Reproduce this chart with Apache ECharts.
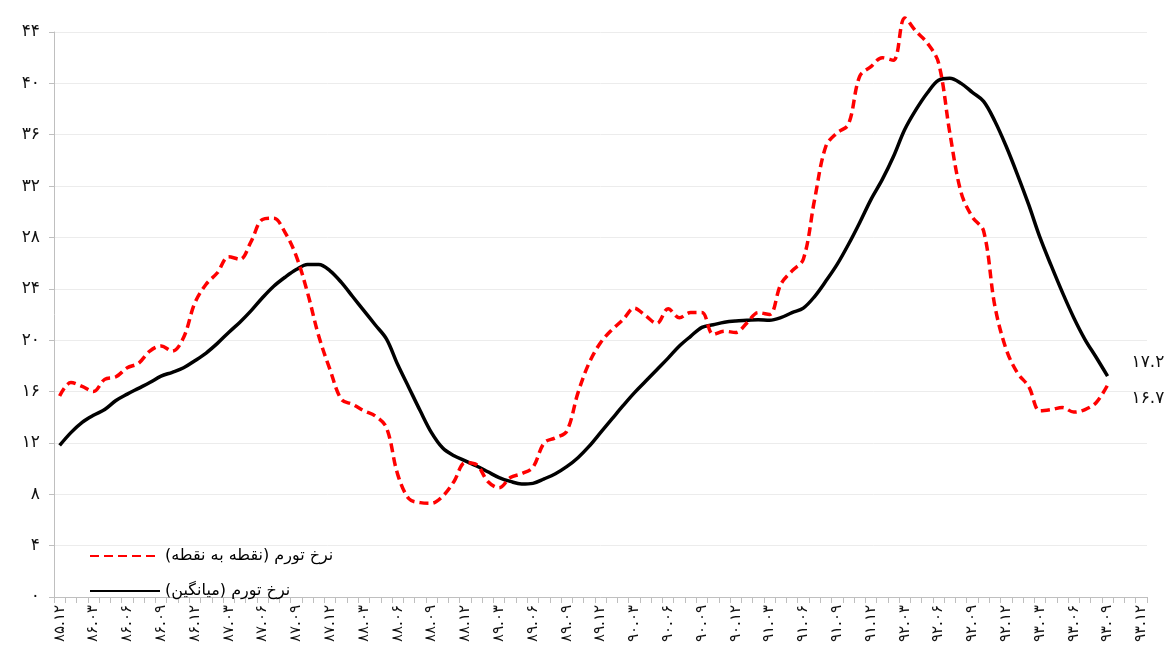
<!DOCTYPE html>
<html>
<head>
<meta charset="utf-8">
<script src="https://cdn.jsdelivr.net/npm/echarts@6/dist/echarts.min.js"></script>
<style>html,body{margin:0;padding:0;background:#fff}#c{width:1173px;height:664px}</style>
</head>
<body>
<div id="c"></div>
<script>
const months = [
"85.12",
"86.01","86.02","86.03","86.04","86.05","86.06","86.07","86.08","86.09","86.10","86.11","86.12",
"87.01","87.02","87.03","87.04","87.05","87.06","87.07","87.08","87.09","87.10","87.11","87.12",
"88.01","88.02","88.03","88.04","88.05","88.06","88.07","88.08","88.09","88.10","88.11","88.12",
"89.01","89.02","89.03","89.04","89.05","89.06","89.07","89.08","89.09","89.10","89.11","89.12",
"90.01","90.02","90.03","90.04","90.05","90.06","90.07","90.08","90.09","90.10","90.11","90.12",
"91.01","91.02","91.03","91.04","91.05","91.06","91.07","91.08","91.09","91.10","91.11","91.12",
"92.01","92.02","92.03","92.04","92.05","92.06","92.07","92.08","92.09","92.10","92.11","92.12",
"93.01","93.02","93.03","93.04","93.05","93.06","93.07","93.08","93.09","93.10","93.11","93.12"
];
const pointToPoint = [
15.65,16.7,16.4,16.0,16.95,17.15,17.85,18.2,19.15,19.55,19.15,20.2,22.9,
24.35,25.25,26.5,26.3,27.7,29.4,29.5,28.4,26.55,23.7,20.3,17.7,
15.4,15.0,14.5,14.1,13.2,9.55,7.65,7.35,7.3,7.85,9.0,10.45,
10.3,9.0,8.5,9.3,9.6,10.1,12.0,12.4,12.9,15.9,18.25,19.8,
20.8,21.6,22.5,21.9,21.3,22.45,21.75,22.15,22.15,20.45,20.7,20.6,
21.35,22.15,22.0,24.35,25.4,26.3,30.95,35.1,36.15,36.8,40.55,41.3,
42.0,41.8,45.1,44.05,43.15,41.6,36.15,31.5,29.6,28.5,22.65,19.3,
17.45,16.4,14.5,14.6,14.75,14.4,14.6,15.15,16.5,null,null,null
];
const average = [
11.8,12.8,13.6,14.15,14.6,15.3,15.8,16.25,16.7,17.2,17.5,17.85,18.4,
19.0,19.75,20.6,21.4,22.3,23.3,24.2,24.9,25.5,25.9,25.9,25.4,
24.5,23.4,22.3,21.2,20.1,18.1,16.3,14.5,12.8,11.6,11.0,10.6,
10.2,9.75,9.3,9.0,8.8,8.85,9.2,9.6,10.15,10.85,11.75,12.8,
13.85,14.9,15.9,16.8,17.7,18.6,19.55,20.3,21.0,21.2,21.4,21.5,
21.55,21.6,21.55,21.75,22.15,22.5,23.4,24.6,25.9,27.45,29.15,30.95,
32.5,34.3,36.4,37.95,39.25,40.25,40.4,40.0,39.3,38.6,37.05,35.1,
32.9,30.55,28.0,25.8,23.7,21.75,20.05,18.65,17.2,null,null,null
];
const seriesNames = ["نرخ تورم (نقطه به نقطه)", "نرخ تورم (میانگین)"];
const endLabels = ["۱۶.۷", "۱۷.۲"];

const fa = s => String(s).replace(/[0-9]/g, d => "۰۱۲۳۴۵۶۷۸۹"[d]);
const FONT = "'DejaVu Sans', sans-serif";

function endMark(arr, text, offset) {
  let last = -1;
  arr.forEach((v, i) => { if (v != null) last = i; });
  return {
    silent: true, symbol: 'circle', symbolSize: 0, animation: false,
    label: { show: true, position: 'right', distance: 0, offset: offset, formatter: () => text,
      fontSize: 17, color: '#111', fontFamily: FONT },
    data: [{ coord: [months[last], arr[last]] }]
  };
}

const chart = echarts.init(document.getElementById('c'), null, { renderer: 'canvas' });
chart.setOption({
  animation: false,
  backgroundColor: '#fff',
  grid: { left: 54, right: 26, top: 32, bottom: 67, containLabel: false },
  legend: {
    orient: 'vertical', left: 84, top: 543, itemWidth: 70, itemHeight: 12, itemGap: 19,
    data: seriesNames,
    itemStyle: { opacity: 0 },
    textStyle: { fontSize: 16, color: '#000', fontFamily: FONT }
  },
  xAxis: {
    type: 'category', data: months, boundaryGap: true,
    axisLine: { lineStyle: { color: '#bfbfbf', width: 1 } },
    axisTick: { show: true, interval: 0, length: 6, lineStyle: { color: '#bfbfbf' } },
    axisLabel: { interval: 2, rotate: 90, margin: 8, fontSize: 15, color: '#111',
      fontFamily: FONT, formatter: v => fa(v) },
    splitLine: { show: false }
  },
  yAxis: {
    type: 'value', min: 0, max: 44, interval: 4,
    axisLine: { show: true, lineStyle: { color: '#bfbfbf' } },
    axisTick: { show: true, length: 5, lineStyle: { color: '#bfbfbf' } },
    axisLabel: { fontSize: 17, color: '#111', margin: 14, fontFamily: FONT, formatter: v => fa(v) },
    splitLine: { lineStyle: { color: '#ececec', width: 1 } }
  },
  series: [
    {
      name: seriesNames[0], type: 'line', smooth: 0.35, symbol: 'none', connectNulls: false, clip: false,
      lineStyle: { color: '#ff0000', width: 3.5, type: [9, 5] },
      itemStyle: { color: '#ff0000' },
      data: pointToPoint, z: 3,
      markPoint: endMark(pointToPoint, endLabels[0], [24, 13])
    },
    {
      name: seriesNames[1], type: 'line', smooth: 0.35, symbol: 'none', connectNulls: false, clip: false,
      lineStyle: { color: '#000000', width: 3.5 },
      itemStyle: { color: '#000000' },
      data: average, z: 2,
      markPoint: endMark(average, endLabels[1], [24, -14])
    }
  ]
});
</script>
</body>
</html>
